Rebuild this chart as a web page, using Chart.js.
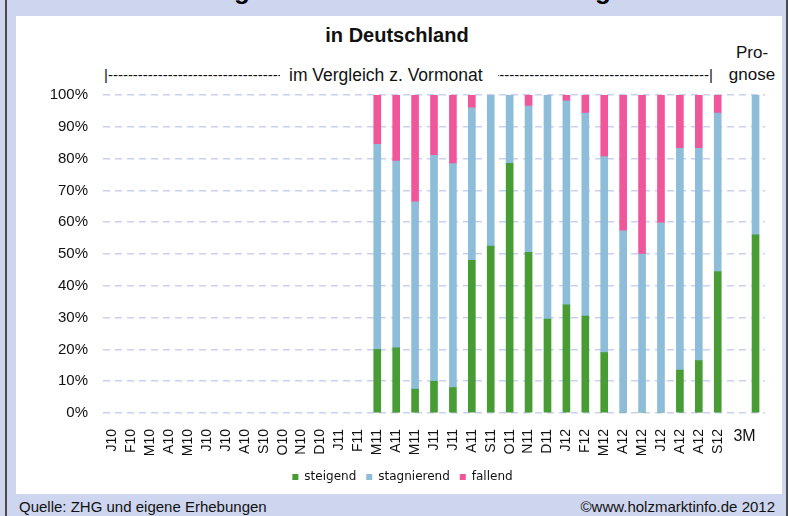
<!DOCTYPE html>
<html>
<head>
<meta charset="utf-8">
<script src="https://cdn.jsdelivr.net/npm/chart.js@4.4.1/dist/chart.umd.min.js"></script>
<style>
  html, body { margin: 0; padding: 0; }
  body { width: 788px; height: 516px; position: relative; overflow: hidden; background: #ced6ef;
         font-family: "Liberation Sans", Arial, sans-serif; color: #111; }
  .edge { position: absolute; top: 0; width: 2px; height: 516px; background: #4a4a4a; }
  #panel { position: absolute; left: 16px; top: 16px; width: 766px; height: 478px; background: #fff; }
  #hdr { position: absolute; left: 0; top: 0; width: 788px; height: 16px; overflow: hidden; }
  #hdr span { position: absolute; top: -23px; font: bold 26px "Liberation Sans", Arial, sans-serif; line-height: 26px; color: #000; }
  .t { position: absolute; white-space: nowrap; line-height: 20px; }
  #dashL { left: 104px; top: 65px; width: 176px; overflow: hidden; font-size: 15px; }
  #dashR { left: 498px; top: 65px; width: 215px; overflow: hidden; font-size: 15px; display: flex; justify-content: flex-end; }
  #chart { position: absolute; left: 0; top: 0; }
</style>
</head>
<body>
<div class="edge" style="left:5px"></div>
<div class="edge" style="left:786px"></div>
<div id="hdr"><span style="left:234px">g</span><span style="left:595px">g</span></div>
<div id="panel"></div>

<div class="t" style="left:247px;top:25px;width:300px;text-align:center;font-weight:bold;font-size:20px">in Deutschland</div>
<div class="t" id="dashL">|----------------------------------------------------------------------</div>
<div class="t" style="left:289px;top:65px;font-size:17.5px">im Vergleich z. Vormonat</div>
<div class="t" id="dashR"><span>----------------------------------------------------------------------|</span></div>
<div class="t" style="left:712px;top:43px;width:80px;text-align:center;font-size:17px">Pro-</div>
<div class="t" style="left:712px;top:65px;width:80px;text-align:center;font-size:17px">gnose</div>

<div class="t" style="left:19px;top:497px;font-size:15px">Quelle: ZHG und eigene Erhebungen</div>
<div class="t" style="left:545px;top:497px;width:230px;text-align:right;font-size:15px">©www.holzmarktinfo.de 2012</div>

<canvas id="chart" width="788" height="516"></canvas>

<script>
// categories (months, then a gap and the 3-month forecast)
const months = ['J10','F10','M10','A10','M10','J10','J10','A10','S10','O10','N10','D10',
                'J11','F11','M11','A11','M11','J11','J11','A11','S11','O11','N11','D11',
                'J12','F12','M12','A12','M12','J12','A12','A12','S12','','3M'];

// shares in percent, from M11 on (first 14 months empty)
const steigend    = [null,null,null,null,null,null,null,null,null,null,null,null,null,null,
                     20, 20.5, 7.5, 10, 8, 48, 52.5, 78.5, 50.5, 29.5,
                     34, 30.5, 19, 0, 0, 0, 13.5, 16.5, 44.5, null, 56];
const stagnierend = [null,null,null,null,null,null,null,null,null,null,null,null,null,null,
                     64.5, 58.7, 58.9, 71, 70.4, 48, 47.5, 21.5, 46, 70.5,
                     64.2, 63.8, 61.6, 57.3, 50, 59.8, 69.7, 66.7, 49.8, null, 44];
const fallend     = [null,null,null,null,null,null,null,null,null,null,null,null,null,null,
                     15.5, 20.8, 33.6, 19, 21.6, 4, 0, 0, 3.5, 0,
                     1.8, 5.7, 19.4, 42.7, 50, 40.2, 16.8, 16.8, 5.7, null, 0];

const yTicks = ['0%','10%','20%','30%','40%','50%','60%','70%','80%','90%','100%'];

const font = 'Liberation Sans';

// the forecast label is written flat, not rotated like the months
const flatLabel = {
  id: 'flatLabel',
  afterDraw(chart) {
    const x = chart.scales.x;
    const i = months.length - 1;
    const c = chart.ctx;
    c.save();
    c.font = '16px "' + font + '"';
    c.fillStyle = '#111';
    c.textAlign = 'center';
    c.textBaseline = 'middle';
    c.fillText(months[i], x.getPixelForValue(i) - 11, 437);
    c.restore();
  }
};

new Chart(document.getElementById('chart').getContext('2d'), {
  type: 'bar',
  data: {
    labels: months,
    datasets: [
      { label: 'steigend', data: steigend, backgroundColor: '#479c33' },
      { label: 'stagnierend', data: stagnierend, backgroundColor: '#8dbdd9' },
      { label: 'fallend', data: fallend, backgroundColor: '#f0579a' }
    ]
  },
  options: {
    responsive: false,
    animation: false,
    devicePixelRatio: 1,
    barThickness: 7,
    layout: { padding: { left: 40, right: 23, top: 95, bottom: 23 } },
    plugins: {
      tooltip: { enabled: false },
      legend: {
        position: 'bottom',
        labels: { boxWidth: 6, boxHeight: 6, padding: 10, color: '#111',
                  font: { family: 'DejaVu Sans', size: 12 } }
      }
    },
    scales: {
      x: {
        stacked: true,
        grid: { display: false },
        border: { display: false },
        afterFit(s) { s.height = 48; },
        ticks: {
          autoSkip: false, maxRotation: 90, minRotation: 90, padding: 8, color: '#111',
          font: { family: font, size: 14 },
          callback: (v, i) => i === months.length - 1 ? '' : months[i]
        }
      },
      y: {
        stacked: true,
        min: 0, max: 100,
        border: { display: false, dash: [7, 5] },
        grid: { color: '#c9d0f0', lineWidth: 1.5, drawTicks: false },
        afterFit(s) { s.width = 63; },
        ticks: {
          stepSize: 10, padding: 15, color: '#111',
          font: { family: font, size: 15 },
          callback: (v, i) => yTicks[i]
        }
      }
    }
  },
  plugins: [flatLabel]
});
</script>
</body>
</html>
